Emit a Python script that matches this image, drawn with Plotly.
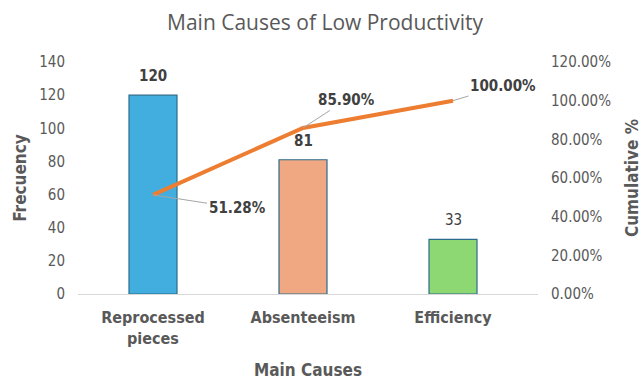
import plotly.graph_objects as go

# Pareto data
causes = ["Reprocessed<br>pieces", "Absenteeism", "Efficiency"]
frequency = [120, 81, 33]
cumulative_pct = [0.5128, 0.8590, 1.0000]
bar_colors = ["#41AEDF", "#F0A882", "#8ED873"]
left_ticks = [0, 20, 40, 60, 80, 100, 120, 140]
right_ticks = [0, 0.2, 0.4, 0.6, 0.8, 1.0, 1.2]

GRAY = "#595959"
NARROW = "Liberation Sans Narrow, DejaVu Sans Condensed, Roboto, sans-serif"

fig = go.Figure()

fig.add_trace(go.Bar(
    x=causes, y=frequency,
    marker=dict(color=bar_colors, line=dict(color="#2B6C8C", width=1.2)),
    width=0.32, showlegend=False, hoverinfo="skip",
))

fig.add_trace(go.Scatter(
    x=causes, y=cumulative_pct, yaxis="y2", mode="lines",
    line=dict(color="#ED7D31", width=4), showlegend=False, hoverinfo="skip",
))

# Frequency labels above bars
bold_flags = [True, True, False]
for c, v, b in zip(causes, frequency, bold_flags):
    fig.add_annotation(
        x=c, y=v, text=f"<b>{v}</b>" if b else str(v), showarrow=False,
        yanchor="bottom", yshift=8,
        font=dict(family=NARROW, size=15, color="#404040"),
    )

# Cumulative labels with leader lines
offsets = [(84, 13), (43, -28), (50, -15)]
for c, p, (ax, ay) in zip(causes, cumulative_pct, offsets):
    fig.add_annotation(
        x=c, y=p, yref="y2", text=f"<b>{p * 100:.2f}%</b>",
        showarrow=True, arrowhead=0, arrowwidth=1, arrowcolor="#A6A6A6",
        ax=ax, ay=ay, standoff=0,
        font=dict(family=NARROW, size=15, color="#404040"),
    )

fig.update_layout(
    width=642, height=384,
    margin=dict(l=78, r=104, t=62, b=90),
    paper_bgcolor="white", plot_bgcolor="white",
    title=dict(
        text="Main Causes of Low Productivity",
        x=325 / 642, xref="container", xanchor="center",
        y=1 - 23 / 384, yanchor="middle",
        font=dict(family="Open Sans, sans-serif", size=21, color=GRAY),
    ),
    bargap=0.68,
    xaxis=dict(
        automargin=False,
        showline=True, linecolor="#D9D9D9", linewidth=1,
        showgrid=False, ticks="", ticklabelstandoff=9,
        tickfont=dict(family=NARROW, size=16, color=GRAY),
        tickprefix="<b>", ticksuffix="</b>",
        title=dict(text="<b>Main Causes</b>", standoff=17,
                   font=dict(family=NARROW, size=17, color=GRAY)),
    ),
    yaxis=dict(
        automargin=False,
        range=[0, 140], tickvals=left_ticks, showgrid=False, zeroline=False,
        showline=False, ticks="", ticklabelstandoff=12,
        tickfont=dict(family=NARROW, size=15, color=GRAY),
        title=dict(text="<b>Frecuency</b>", standoff=8,
                   font=dict(family=NARROW, size=17, color=GRAY)),
    ),
    yaxis2=dict(
        automargin=False,
        range=[0, 1.2], tickvals=right_ticks, tickformat=".2%",
        overlaying="y", side="right", showgrid=False, zeroline=False,
        showline=False, ticks="", ticklabelstandoff=12,
        tickfont=dict(family=NARROW, size=15, color=GRAY),
        title=dict(text="<b>Cumulative %</b>", standoff=17,
                   font=dict(family=NARROW, size=17, color=GRAY)),
    ),
)

fig.write_html("out.html")
